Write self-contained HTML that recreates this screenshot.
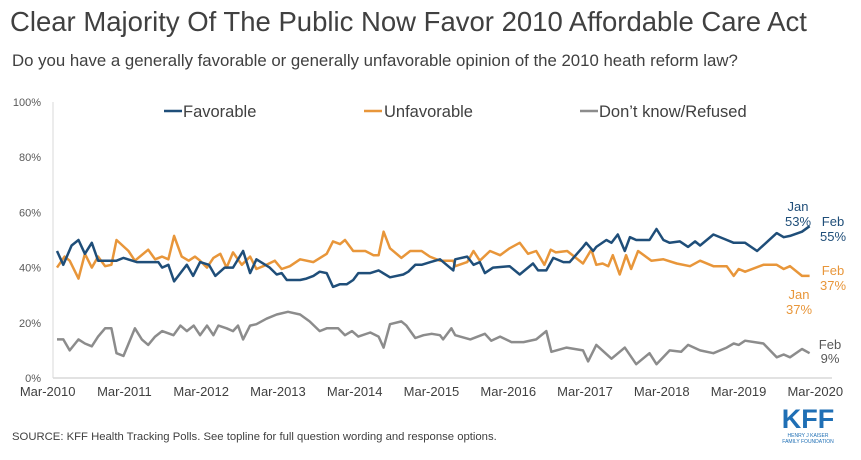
<!DOCTYPE html>
<html><head><meta charset="utf-8"><style>
body{margin:0;background:#fff;font-family:"Liberation Sans",sans-serif;}
#wrap{position:relative;width:861px;height:460px;overflow:hidden;}
</style></head><body>
<div id="wrap">
<svg width="861" height="460" font-family="Liberation Sans, sans-serif">
<text x="10" y="31" font-size="27.5" fill="#404040">Clear Majority Of The Public Now Favor 2010 Affordable Care Act</text>
<text x="12" y="66" font-size="16.8" fill="#404040">Do you have a generally favorable or generally unfavorable opinion of the 2010 heath reform law?</text>
<g id="yaxis"></g>
<g id="xaxis"></g>
<g id="series"></g>
<g>
<line x1="164" y1="111" x2="182" y2="111" stroke="#1f4e79" stroke-width="2.5"/>
<text x="183" y="117" font-size="16.5" fill="#404040">Favorable</text>
<line x1="364" y1="111" x2="382" y2="111" stroke="#e8963a" stroke-width="2.5"/>
<text x="384" y="117" font-size="16.5" fill="#404040">Unfavorable</text>
<line x1="580" y1="111" x2="598" y2="111" stroke="#8c8c8c" stroke-width="2.5"/>
<text x="599" y="117" font-size="16.5" fill="#404040">Don’t know/Refused</text>
</g>
<g font-size="13">
<text x="798" y="211" text-anchor="middle" fill="#1f4e79"><tspan x="798">Jan</tspan><tspan x="798" dy="15">53%</tspan></text>
<text x="833" y="226" text-anchor="middle" fill="#1f4e79"><tspan x="833">Feb</tspan><tspan x="833" dy="15">55%</tspan></text>
<text x="833" y="275" text-anchor="middle" fill="#e8963a"><tspan x="833">Feb</tspan><tspan x="833" dy="15">37%</tspan></text>
<text x="799" y="299" text-anchor="middle" fill="#e8963a"><tspan x="799">Jan</tspan><tspan x="799" dy="15">37%</tspan></text>
<text x="830" y="349" text-anchor="middle" fill="#595959"><tspan x="830">Feb</tspan><tspan x="830" dy="14">9%</tspan></text>
</g>
<text x="12" y="440" font-size="11.3" fill="#404040">SOURCE: KFF Health Tracking Polls. See topline for full question wording and response options.</text>
<g>
<text x="808" y="428" text-anchor="middle" font-size="27" font-weight="bold" fill="#1f6fb5">KFF</text>
<text x="808" y="437" text-anchor="middle" font-size="5" fill="#1f6fb5">HENRY J KAISER</text>
<text x="808" y="443" text-anchor="middle" font-size="5" fill="#1f6fb5">FAMILY FOUNDATION</text>
</g>
</svg>
</div>
<script>
const favMonths=[0,1,2.3,3.4,4.4,5.5,6.5,9.4,10.5,12.6,16,16.6,17.6,18.5,20.5,21.5,22.6,24,25,26.5,27.8,29.4,30.5,31.5,33.6,34.7,35.5,36.3,38.4,39.4,40.5,41.5,42.6,43.6,44.7,45.8,46.8,47.6,49.5,50.8,52.6,54.7,55.5,56.6,57.6,59,60.5,62.6,62.9,64.8,65.8,66.8,67.6,68.9,71.5,73.1,75.2,76,77.3,78.4,80,81,83.1,83.6,84.7,85.2,86.8,87.6,88.6,89.7,90.5,91.5,93.6,94.7,95.8,96.8,98.4,99.7,100.8,101.6,103.7,105.3,106.9,108.7,110.6,113.7,114.8,115.8,117.7,118.9];
const favValues=[46,41,48,50,45,49,42.5,42.5,43.5,42,42,40,41,35,41,37,42,41,37,40,40,46,38,43,40,37.5,38,35.5,35.5,36,37,38.5,38,33,34,34,35.5,38,38,39,36.5,37.5,38.5,41,41,42,43,39,43,44,41,42,38,40,40.5,37.5,41.5,39,39,43.5,42,42,47.5,49,46,47.5,50,49,52,46,51,50,50,54,50,49,49.5,47.5,49.5,48,52,50.5,49,49,46,52.5,51,51.5,53,55];
const unfMonths=[0,1.2,2,3.4,4.4,5.5,6.5,7.6,8.6,9.4,11.3,12.3,14.4,15.5,16.6,17.6,18.5,19.7,20.8,21.8,22.6,23.7,24.7,25.8,26.8,27.8,29.2,30.5,31.5,33.1,34.4,35.5,36.8,38.4,40.5,42.6,43.6,44.7,45.5,46.8,48.7,50,50.8,51.6,52.6,54.4,55.8,57.6,58.9,60.5,62.6,62.9,64.8,65.8,66.8,68.4,70,71.5,73.1,74.4,75.7,77,78,78.8,80.6,83.1,84.4,85.2,86.2,87.1,87.8,88.9,89.9,90.7,91.8,93.9,95.8,97.9,100,101.6,103.7,105.8,106.9,107.7,108.7,111.6,113.7,114.8,115.8,117.7,118.9];
const unfValues=[40,44,42.5,36,45,40,44,40.5,41,50,46,42.5,46.5,43,44,43,51.5,44,42.5,44,42.5,40,43.5,45,40,45.5,41,44,39.5,41,42.5,39.5,40.5,43,42,45,49.5,48.5,50,46,46,44.5,44.5,53,47,43.5,46,46,44,42.5,42.5,40.5,42,46,42.5,46,44.5,47,49,45,46,41,46.5,45.5,46,41.5,46.5,41,41.5,40.5,44.5,37.5,44.5,39.5,46,42.5,43,41.5,40.5,42.5,40.5,40.5,37,39.5,38.5,41,41,39.5,40.5,37,37];
const dkMonths=[0,1,2,3.4,4.4,5.5,6.5,7.6,8.6,9.4,10.5,12.3,13.4,14.4,15.5,16.6,18.4,19.5,20.5,21.6,22.6,23.7,24.7,25.5,26.8,27.8,28.6,29.4,30.5,31.5,33.1,34.7,36.5,38.4,39.9,41.5,42.6,44.4,45.5,46.6,47.6,49.5,50.8,51.6,52.6,54.4,55.2,56.6,57.9,59.2,60.5,61,62.3,62.9,65.3,67.6,68.6,70,71.8,73.7,75.7,77.3,78.1,80.5,83.1,83.9,85.2,87.6,89.7,91.5,93.6,94.7,96.8,98.6,99.7,101.6,103.7,105.8,106.9,107.7,108.7,111.6,113.7,114.8,115.8,117.7,118.9];
const dkValues=[14,14,10,14,12.5,11.5,15,18,18,9,8,18,14,12,15,17,15.5,19,17,19,15.5,19,15.5,19,18,17,19,14,19,19.5,21.5,23,24,23,20.5,17,18,18,15.5,17,15,16.5,15,11,19.5,20.5,19,14.5,15.5,16,15.5,14,18,15.5,14,16,13.5,15,13,13,14,17,9.5,11,10,6,12,7,11,5,9,5,10,9.5,12,10,9,11,12.5,12,13.5,12.5,7.5,8.5,7.5,10.5,9];
const yTicks=[0,20,40,60,80,100];
const xTickLabels=["Mar-2010","Mar-2011","Mar-2012","Mar-2013","Mar-2014","Mar-2015","Mar-2016","Mar-2017","Mar-2018","Mar-2019","Mar-2020"];

const NS="http://www.w3.org/2000/svg";
function x(m){return 57+m*6.33;}
function y(v){return 378-v*2.76;}
function mk(tag,attrs,parent){const e=document.createElementNS(NS,tag);for(const k in attrs)e.setAttribute(k,attrs[k]);parent.appendChild(e);return e;}
const ya=document.getElementById('yaxis'),xa=document.getElementById('xaxis'),sg=document.getElementById('series');
yTicks.forEach(t=>{
  const tx=mk('text',{x:41,y:y(t)+4,'font-size':11,fill:'#595959','text-anchor':'end'},ya);
  tx.textContent=t+'%';
  
  
});
const yl=mk('line',{x1:53,y1:102,x2:53,y2:378,stroke:'#d9d9d9','stroke-width':1},ya);


const xl=mk('line',{x1:53,y1:378,x2:832,y2:378,stroke:'#d9d9d9','stroke-width':1.5},xa);


xTickLabels.forEach((l,i)=>{
  const tx=mk('text',{x:x(i*12-1)-3+i*0.8,y:396,'font-size':13,fill:'#404040','text-anchor':'middle'},xa);
  tx.textContent=l;
  
  
});
function line(ms,vs,color,name){
  const d=ms.map((m,i)=>(i?'L':'M')+x(m).toFixed(1)+','+y(vs[i]).toFixed(1)).join('');
  const p=mk('path',{d:d,fill:'none',stroke:color,'stroke-width':2.5,'stroke-linejoin':'round'},sg);
  
  
}
line(dkMonths,dkValues,'#8c8c8c','dontknow-line');
line(unfMonths,unfValues,'#e8963a','unfavorable-line');
line(favMonths,favValues,'#1f4e79','favorable-line');
</script>
</body></html>
